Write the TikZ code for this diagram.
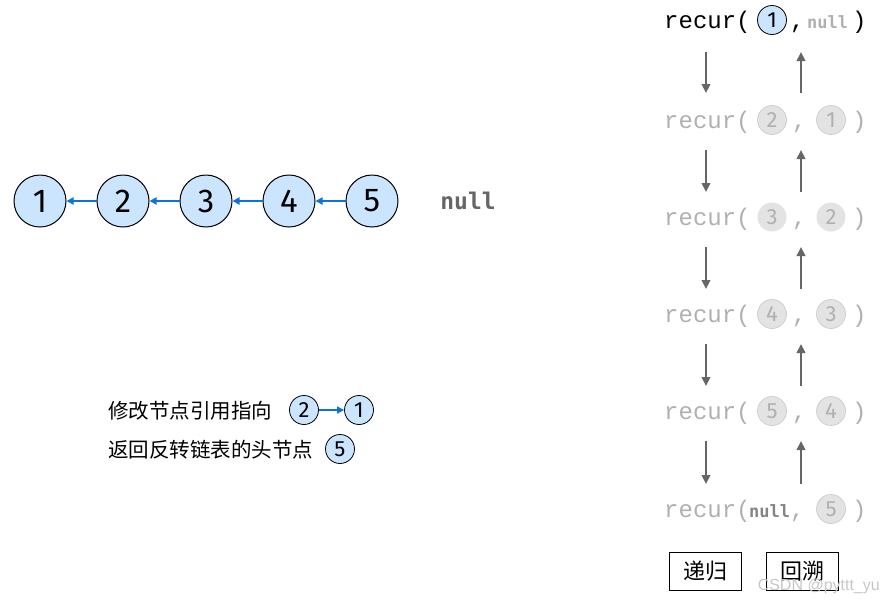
\documentclass[tikz,border=0pt]{standalone}
\usepackage{fontspec}
\setmainfont{Fira Sans}
\newfontfamily\cjkfont{Noto Sans CJK SC}
\newfontfamily\recfont{Liberation Mono}
\newfontfamily\nlfont{DejaVu Sans Mono}
\newfontfamily\wmfont{Liberation Sans}
\usetikzlibrary{arrows.meta}
\definecolor{nodeblue}{HTML}{CCE5FF}
\definecolor{linkblue}{HTML}{0A74DA}
\definecolor{fadegray}{HTML}{B0B0B0}
\definecolor{fadefill}{HTML}{E3E3E3}
\definecolor{arrgray}{HTML}{666666}
\begin{document}
\begin{tikzpicture}[x=1pt,y=-1pt,
  bignode/.style={circle,draw=black,line width=1pt,fill=nodeblue,minimum size=52pt,inner sep=0pt,font=\fontsize{33}{36}\selectfont},
  smallnode/.style={circle,draw=black,line width=0.8pt,fill=nodeblue,minimum size=29pt,inner sep=0pt,font=\fontsize{22}{24}\selectfont},
  fadenode/.style={circle,draw=fadegray!70,line width=0.6pt,fill=fadefill,text=fadegray,minimum size=29pt,inner sep=0pt,font=\fontsize{22}{24}\selectfont},
  link/.style={draw=linkblue,line width=2pt,-{Triangle[length=7pt,width=7pt]}},
  flow/.style={draw=arrgray,line width=2.5pt,-{Triangle[length=9pt,width=8.5pt]}},
  rec/.style={font=\recfont\fontsize{24}{26}\selectfont,inner sep=0pt,anchor=base west},
  nulltxt/.style={font=\nlfont\bfseries\fontsize{17}{19}\selectfont,inner sep=0pt,anchor=base west},
  legend/.style={font=\cjkfont\fontsize{20.5}{22}\selectfont,inner sep=0pt,anchor=west},
  tag/.style={draw=black,line width=0.8pt,minimum width=72pt,minimum height=38pt,inner sep=0pt,font=\cjkfont\fontsize{22}{24}\selectfont}
]
\useasboundingbox (0,0) rectangle (882,600);
% main list
\node[bignode] (n1) at (40,201) {1};
\node[bignode] (n2) at (123,201) {2};
\node[bignode] (n3) at (206,201) {3};
\node[bignode] (n4) at (289,201) {4};
\node[bignode] (n5) at (372,201) {5};
\node[font=\nlfont\bfseries\fontsize{23}{25}\selectfont,text=arrgray,inner sep=0pt] (nl) at (468,201) {null};
\draw[link] (n2) -- (n1);
\draw[link] (n3) -- (n2);
\draw[link] (n4) -- (n3);
\draw[link] (n5) -- (n4);
% legend
\node[legend] (l1) at (108,411) {修改节点引用指向};
\node[smallnode] (la) at (304,410) {2};
\node[smallnode] (lb) at (359,410) {1};
\draw[link,line width=1.5pt] (la) -- (lb);
\node[legend] (l2) at (108,450) {返回反转链表的头节点};
\node[smallnode] (lc) at (340,449) {5};
% recursion rows
\node[rec] (r1) at (664,28) {recur(};
\node[smallnode] (r1a) at (772,20) {1};
\node[rec] (r1c) at (790,28) {,};
\node[nulltxt,text=fadegray] (r1n) at (807,28) {null};
\node[rec] (r1e) at (852,28) {)};

\node[rec,text=fadegray] (r2) at (664,128) {recur(};
\node[fadenode] (r2a) at (772,120) {2};
\node[rec,text=fadegray] (r2c) at (792,128) {,};
\node[fadenode] (r2b) at (831,120) {1};
\node[rec,text=fadegray] (r2e) at (852,128) {)};

\node[rec,text=fadegray] (r3) at (664,225) {recur(};
\node[fadenode,draw=none] (r3a) at (772,217) {3};
\node[rec,text=fadegray] (r3c) at (792,225) {,};
\node[fadenode,draw=none] (r3b) at (831,217) {2};
\node[rec,text=fadegray] (r3e) at (852,225) {)};

\node[rec,text=fadegray] (r4) at (664,322) {recur(};
\node[fadenode] (r4a) at (772,314) {4};
\node[rec,text=fadegray] (r4c) at (792,322) {,};
\node[fadenode] (r4b) at (831,314) {3};
\node[rec,text=fadegray] (r4e) at (852,322) {)};

\node[rec,text=fadegray] (r5) at (664,419) {recur(};
\node[fadenode] (r5a) at (772,411) {5};
\node[rec,text=fadegray] (r5c) at (792,419) {,};
\node[fadenode] (r5b) at (831,411) {4};
\node[rec,text=fadegray] (r5e) at (852,419) {)};

\node[rec,text=fadegray] (r6) at (664,517) {recur(};
\node[nulltxt,text=fadegray!75!black] (r6n) at (749,517) {null};
\node[rec,text=fadegray] (r6c) at (790,517) {,};
\node[fadenode] (r6b) at (831,509) {5};
\node[rec,text=fadegray] (r6e) at (852,517) {)};

% flow arrows
\foreach \ya/\yb [count=\i] in {52/93,150/192,247/289,344/386,441/484}{
  \coordinate (d\i s) at (706,\ya);
  \coordinate (d\i e) at (706,\yb);
  \coordinate (u\i s) at (801,\yb);
  \coordinate (u\i e) at (801,\ya);
  \draw[flow] (d\i s) -- (d\i e);
  \draw[flow] (u\i s) -- (u\i e);
}
% tags
\node[tag] (t1) at (705,571) {递归};
\node[tag] (t2) at (802,571) {回溯};
\node[font=\wmfont\fontsize{16}{17}\selectfont,text=black!22,inner sep=0pt,anchor=east] (wm) at (880,586) {CSDN @pyttt\_yu};
\end{tikzpicture}
\end{document}
